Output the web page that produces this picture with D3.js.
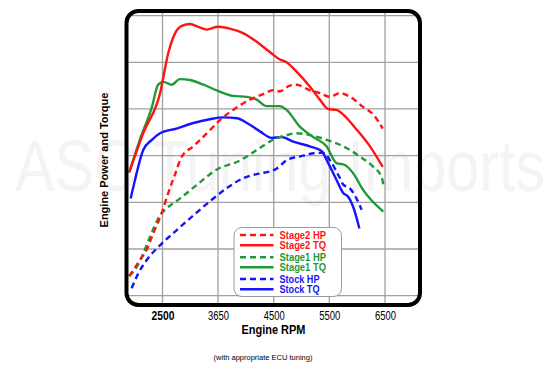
<!DOCTYPE html>
<html>
<head>
<meta charset="utf-8">
<script src="https://cdn.jsdelivr.net/npm/d3@7"></script>
<style>
  html, body { margin: 0; padding: 0; background: #fff; }
  svg { display: block; }
</style>
</head>
<body>
<script>
// ---------- DATA ----------
const rpmTicks = [2500, 3650, 4500, 5500, 6500];
const gridValues = [100, 150, 200, 250, 300, 350, 400];

const stage2HP = [
  [1810,121],[2030,138],[2170,149],[2310,167],[2480,188],[2620,210],[2760,230],[2900,249],
  [3140,260],[3420,274],[3680,288],[3880,299],[4140,310],[4340,316],[4490,320],[4610,319],
  [4790,325],[4910,326],[5150,320],[5330,317],[5510,313],[5690,317],[5870,313],[6110,302],
  [6290,294],[6460,279]
];
const stage2TQ = [
  [1810,232],[2100,274],[2450,317],[2620,360],[2760,381],[2900,389],[3070,391],[3240,388],
  [3420,385],[3650,388],[3830,386],[4040,381],[4240,372],[4440,361],[4610,353],[4730,350],
  [4910,340],[5150,324],[5330,310],[5480,300],[5630,299],[5750,294],[5990,278],[6230,260],
  [6460,238]
];
const stage1HP = [
  [1810,121],[1970,131],[2100,145],[2240,163],[2450,186],[2620,195],[2860,204],[3240,220],
  [3620,235],[3990,245],[4240,256],[4490,267],[4730,272],[4910,274],[5150,272],[5450,267],
  [5750,260],[6050,249],[6290,238],[6440,227],[6470,219]
];
const stage1TQ = [
  [1810,232],[2030,267],[2280,302],[2410,326],[2520,329],[2690,326],[2860,332],[3070,331],
  [3350,326],[3620,320],[3880,314],[4090,313],[4240,310],[4390,303],[4610,303],[4730,299],
  [4970,281],[5210,270],[5450,260],[5630,242],[5780,240],[5930,231],[6110,213],[6470,190]
];
const stockHP = [
  [1860,108],[2000,124],[2170,138],[2450,154],[2790,170],[3140,186],[3480,201],[3780,215],
  [4040,226],[4290,231],[4440,233],[4550,236],[4730,245],[5030,250],[5270,253],[5390,253],
  [5510,245],[5690,226],[5750,219],[5870,215],[5990,204],[6080,192]
];
const stockTQ = [
  [1840,204],[1930,224],[2100,256],[2280,267],[2450,274],[2790,279],[3140,285],[3480,289],
  [3730,291],[3940,290],[4090,285],[4290,276],[4470,269],[4640,270],[4850,265],[5150,260],
  [5360,255],[5480,242],[5630,224],[5750,210],[5840,206],[5930,195],[6040,172]
];

const seriesNames = ["Stage2 HP", "Stage2 TQ", "Stage1 HP", "Stage1 TQ", "Stock HP", "Stock TQ"];
const seriesData = [stage2HP, stage2TQ, stage1HP, stage1TQ, stockHP, stockTQ];
const seriesColors = ["#ff1414", "#ff1414", "#1f9a35", "#1f9a35", "#1414ff", "#1414ff"];
const seriesDashed = [true, false, true, false, true, false];

const xTitle = "Engine RPM";
const yTitle = "Engine Power and Torque";
const footnote = "(with appropriate ECU tuning)";
const watermark = "ASC Tuning Imports";

// ---------- CHART ----------
const W = 555, H = 365;
const svg = d3.select("body").append("svg").attr("width", W).attr("height", H);

const frame = {x: 126.5, y: 11, w: 293.5, h: 294};

const x = d3.scaleLinear().domain(rpmTicks).range([162.5, 218, 273.7, 329.3, 385]);
const y = d3.scaleLinear().domain([100, 400]).range([295.7, 15.6]);

// watermark
svg.append("text")
  .attr("x", 15).attr("y", 191)
  .attr("textLength", 530).attr("lengthAdjust", "spacingAndGlyphs")
  .attr("font-family", "Liberation Sans, Arial, sans-serif")
  .attr("font-size", 72)
  .attr("fill", "#f4f4f4")
  .text(watermark);

// grid
const grid = svg.append("g").attr("stroke", "#a0a0a0").attr("stroke-width", 1.3);
grid.selectAll("line.v").data(rpmTicks).join("line")
  .attr("x1", d => x(d)).attr("x2", d => x(d))
  .attr("y1", frame.y + 2).attr("y2", frame.y + frame.h - 2);
grid.selectAll("line.h").data(gridValues).join("line")
  .attr("x1", frame.x + 2).attr("x2", frame.x + frame.w - 2)
  .attr("y1", d => y(d)).attr("y2", d => y(d));

// curves
const line = d3.line().x(d => x(d[0])).y(d => y(d[1])).curve(d3.curveMonotoneX);
const order = [4, 5, 2, 3, 0, 1];
order.forEach(i => {
  svg.append("path")
    .datum(seriesData[i])
    .attr("fill", "none")
    .attr("stroke", seriesColors[i])
    .attr("stroke-width", 2.4)
    .attr("stroke-linejoin", "round")
    .attr("stroke-dasharray", seriesDashed[i] ? "6,4" : null)
    .attr("d", line);
});

// frame
svg.append("rect")
  .attr("x", frame.x).attr("y", frame.y).attr("width", frame.w).attr("height", frame.h)
  .attr("rx", 12).attr("ry", 12)
  .attr("fill", "none").attr("stroke", "#000").attr("stroke-width", 4);

// legend
const lg = svg.append("g");
lg.append("rect")
  .attr("x", 234).attr("y", 227.5).attr("width", 107.5).attr("height", 69)
  .attr("rx", 8).attr("ry", 8)
  .attr("fill", "#fff").attr("stroke", "#9a9a9a").attr("stroke-width", 1);
const rowY = [235, 245.3, 257.3, 267.3, 279, 289.3];
seriesNames.forEach((name, i) => {
  lg.append("line")
    .attr("x1", 240).attr("x2", 273.5)
    .attr("y1", rowY[i]).attr("y2", rowY[i])
    .attr("stroke", seriesColors[i]).attr("stroke-width", 2.4)
    .attr("stroke-dasharray", seriesDashed[i] ? "6,4" : null);
  lg.append("text")
    .attr("x", 279.5).attr("y", rowY[i] + 3.6)
    .attr("font-family", "Liberation Sans, Arial, sans-serif")
    .attr("font-weight", "bold").attr("font-size", 10)
    .attr("textLength", name.startsWith("Stock") ? 40 : 46.5)
    .attr("lengthAdjust", "spacingAndGlyphs")
    .attr("fill", seriesColors[i])
    .text(name);
});

// x axis
const xAxis = svg.append("g")
  .attr("transform", "translate(0,311)")
  .call(d3.axisBottom(x).tickValues(rpmTicks).tickSize(0).tickPadding(0).tickFormat(d3.format("d")));
xAxis.select(".domain").remove();
xAxis.selectAll("text")
  .attr("font-family", "Liberation Sans, Arial, sans-serif")
  .attr("font-size", 12.5)
  .attr("fill", "#000")
  .attr("textLength", d => d === 2500 ? 23 : 21)
  .attr("lengthAdjust", "spacingAndGlyphs")
  .attr("font-weight", d => d === 2500 ? "bold" : "normal");

svg.append("text")
  .attr("x", 273.5).attr("y", 333.5).attr("text-anchor", "middle")
  .attr("font-family", "Liberation Sans, Arial, sans-serif")
  .attr("font-weight", "bold").attr("font-size", 12)
  .attr("textLength", 64).attr("lengthAdjust", "spacingAndGlyphs")
  .text(xTitle);

svg.append("text")
  .attr("transform", "translate(108,160) rotate(-90)")
  .attr("text-anchor", "middle")
  .attr("font-family", "Liberation Sans, Arial, sans-serif")
  .attr("font-weight", "bold").attr("font-size", 11)
  .text(yTitle);

svg.append("text")
  .attr("x", 263).attr("y", 359.5).attr("text-anchor", "middle")
  .attr("font-family", "Liberation Sans, Arial, sans-serif")
  .attr("font-size", 7.5)
  .text(footnote);
</script>
</body>
</html>
